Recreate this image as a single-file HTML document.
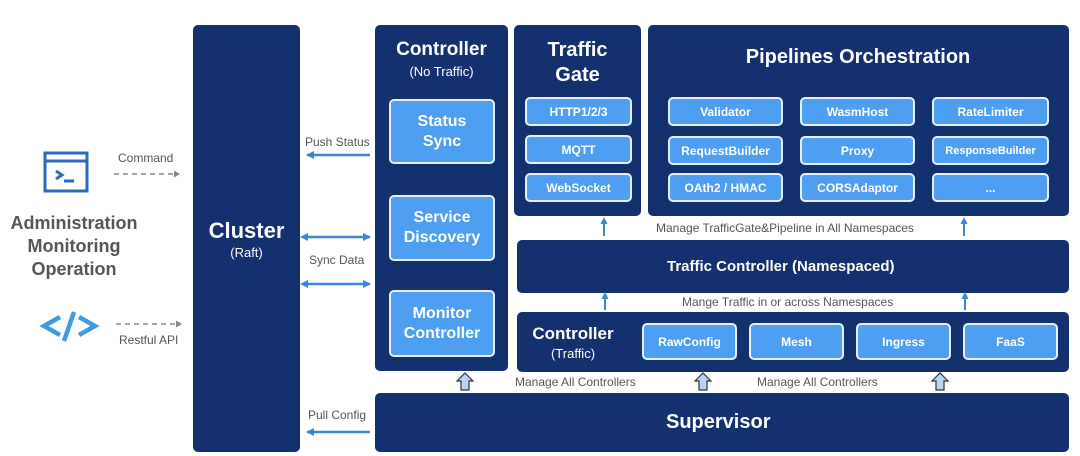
<!DOCTYPE html>
<html><head><meta charset="utf-8"><style>
*{margin:0;padding:0;box-sizing:border-box}
body{width:1080px;height:456px;background:#fff;position:relative;overflow:hidden;font-family:"Liberation Sans",Arial,sans-serif}
.n{position:absolute;background:#13306f;border-radius:5px;color:#fff}
.b{position:absolute;background:#4e9ef2;border:2px solid #e8f0fb;border-radius:5px;color:#fff;font-weight:bold;font-size:12px;display:flex;align-items:center;justify-content:center;text-align:center}
.t{position:absolute;color:#fff;font-weight:bold;text-align:center}
.g{position:absolute;color:#555;font-size:12px;white-space:nowrap}
svg{position:absolute;left:0;top:0}
</style></head><body>
<div class="n" style="left:193px;top:25px;width:107px;height:427px"></div>
<div class="t" style="left:193px;top:218px;width:107px;font-size:22px">Cluster</div>
<div class="t" style="left:193px;top:245px;width:107px;font-size:13px;font-weight:normal">(Raft)</div>

<div class="n" style="left:375px;top:25px;width:133px;height:346px"></div>
<div class="t" style="left:375px;top:39px;width:133px;font-size:19px">Controller</div>
<div class="t" style="left:375px;top:64px;width:133px;font-size:13px;font-weight:normal">(No Traffic)</div>
<div class="b" style="left:389px;top:99px;width:106px;height:65px;font-size:16px;line-height:20px">Status<br>Sync</div>
<div class="b" style="left:389px;top:195px;width:106px;height:66px;font-size:16px;line-height:20px">Service<br>Discovery</div>
<div class="b" style="left:389px;top:290px;width:106px;height:67px;font-size:16px;line-height:20px">Monitor<br>Controller</div>

<div class="n" style="left:514px;top:25px;width:127px;height:191px"></div>
<div class="t" style="left:514px;top:38px;width:127px;font-size:20px;line-height:25px">Traffic<br>Gate</div>
<div class="b" style="left:525px;top:97px;width:107px;height:29px">HTTP1/2/3</div>
<div class="b" style="left:525px;top:135px;width:107px;height:29px">MQTT</div>
<div class="b" style="left:525px;top:173px;width:107px;height:29px">WebSocket</div>

<div class="n" style="left:648px;top:25px;width:421px;height:191px"></div>
<div class="t" style="top:46px;width:290px;font-size:20px;left:713px">Pipelines Orchestration</div>
<div class="b" style="left:668px;top:97px;width:115px;height:29px">Validator</div>
<div class="b" style="left:800px;top:97px;width:115px;height:29px">WasmHost</div>
<div class="b" style="left:932px;top:97px;width:117px;height:29px">RateLimiter</div>
<div class="b" style="left:668px;top:136px;width:115px;height:29px">RequestBuilder</div>
<div class="b" style="left:800px;top:136px;width:115px;height:29px">Proxy</div>
<div class="b" style="left:932px;top:136px;width:117px;height:29px;font-size:11px">ResponseBuilder</div>
<div class="b" style="left:668px;top:173px;width:115px;height:29px">OAth2 / HMAC</div>
<div class="b" style="left:800px;top:173px;width:115px;height:29px">CORSAdaptor</div>
<div class="b" style="left:932px;top:173px;width:117px;height:29px">...</div>

<div class="g" style="left:656px;top:221px">Manage TrafficGate&amp;Pipeline in All Namespaces</div>
<div class="n" style="left:517px;top:240px;width:552px;height:53px"></div>
<div class="t" style="left:517px;top:258px;width:552px;font-size:15px;text-align:left;padding-left:150px">Traffic Controller (Namespaced)</div>
<div class="g" style="left:682px;top:295px">Mange Traffic in or across Namespaces</div>

<div class="n" style="left:517px;top:312px;width:552px;height:60px"></div>
<div class="t" style="left:517px;top:324px;width:112px;font-size:17px">Controller</div>
<div class="t" style="left:517px;top:346px;width:112px;font-size:13px;font-weight:normal">(Traffic)</div>
<div class="b" style="left:642px;top:323px;width:95px;height:37px">RawConfig</div>
<div class="b" style="left:749px;top:323px;width:95px;height:37px">Mesh</div>
<div class="b" style="left:856px;top:323px;width:95px;height:37px">Ingress</div>
<div class="b" style="left:963px;top:323px;width:95px;height:37px">FaaS</div>

<div class="g" style="left:515px;top:375px">Manage All Controllers</div>
<div class="g" style="left:757px;top:375px">Manage All Controllers</div>
<div class="n" style="left:375px;top:393px;width:694px;height:59px"></div>
<div class="t" style="left:375px;top:411px;width:694px;font-size:20px;text-align:left;padding-left:291px">Supervisor</div>

<div style="position:absolute;left:0;top:212px;width:148px;text-align:center;color:#555;font-weight:bold;font-size:18px;line-height:23px">Administration<br>Monitoring<br>Operation</div>
<div class="g" style="left:118px;top:151px">Command</div>
<div class="g" style="left:119px;top:333px">Restful API</div>
<div class="g" style="left:305px;top:135px">Push Status</div>
<div class="g" style="left:309px;top:253px">Sync Data</div>
<div class="g" style="left:308px;top:408px">Pull Config</div>

<svg width="1080" height="456">
<defs>
<marker id="ab" markerUnits="userSpaceOnUse" markerWidth="8" markerHeight="8" refX="7" refY="4" orient="auto"><path d="M0,0L8,4L0,8z" fill="#3a86d4"/></marker>
<marker id="as" markerUnits="userSpaceOnUse" markerWidth="8" markerHeight="8" refX="1" refY="4" orient="auto-start-reverse"><path d="M0,0L8,4L0,8z" fill="#3a86d4"/></marker>
<marker id="au" markerUnits="userSpaceOnUse" markerWidth="7" markerHeight="7" refX="5" refY="3.5" orient="auto"><path d="M0,0L7,3.5L0,7z" fill="#3a86d4"/></marker>
<marker id="ag" markerUnits="userSpaceOnUse" markerWidth="6" markerHeight="7" refX="5" refY="3.5" orient="auto"><path d="M0,0L6,3.5L0,7z" fill="#888"/></marker>
</defs>
<rect x="45" y="153" width="42" height="38" fill="none" stroke="#2a6bbf" stroke-width="3"/>
<line x1="45" y1="161" x2="87" y2="161" stroke="#2a6bbf" stroke-width="3"/>
<path d="M56,171L62,175L56,179" fill="none" stroke="#2a6bbf" stroke-width="3"/>
<line x1="64" y1="181" x2="74" y2="181" stroke="#2a6bbf" stroke-width="3"/>
<path d="M60,317L44,326L60,335" fill="none" stroke="#3f9be0" stroke-width="4.5"/>
<path d="M79,317L95,326L79,335" fill="none" stroke="#3f9be0" stroke-width="4.5"/>
<line x1="74" y1="312" x2="64" y2="341" stroke="#3f9be0" stroke-width="4.5"/>
<line x1="114" y1="174" x2="179" y2="174" stroke="#888" stroke-width="1.5" stroke-dasharray="5,4" marker-end="url(#ag)"/>
<line x1="116" y1="324" x2="181" y2="324" stroke="#888" stroke-width="1.5" stroke-dasharray="5,4" marker-end="url(#ag)"/>
<line x1="370" y1="155" x2="307" y2="155" stroke="#3a86d4" stroke-width="2.5" marker-end="url(#ab)"/>
<line x1="307" y1="237" x2="370" y2="237" stroke="#3a86d4" stroke-width="2.5" marker-start="url(#as)" marker-end="url(#ab)"/>
<line x1="307" y1="284" x2="370" y2="284" stroke="#3a86d4" stroke-width="2.5" marker-start="url(#as)" marker-end="url(#ab)"/>
<line x1="370" y1="432" x2="307" y2="432" stroke="#3a86d4" stroke-width="2.5" marker-end="url(#ab)"/>
<line x1="604" y1="236" x2="604" y2="219" stroke="#3a86d4" stroke-width="2" marker-end="url(#au)"/>
<line x1="964" y1="236" x2="964" y2="219" stroke="#3a86d4" stroke-width="2" marker-end="url(#au)"/>
<line x1="605" y1="310" x2="605" y2="294" stroke="#3a86d4" stroke-width="2" marker-end="url(#au)"/>
<line x1="965" y1="310" x2="965" y2="294" stroke="#3a86d4" stroke-width="2" marker-end="url(#au)"/>
<g fill="#b7d3f5" stroke="#333" stroke-width="1.2">
<path d="M465,373L473,381L469,381L469,390L461,390L461,381L457,381z"/>
<path d="M703,373L711,381L707,381L707,390L699,390L699,381L695,381z"/>
<path d="M940,373L948,381L944,381L944,390L936,390L936,381L932,381z"/>
</g>
</svg>
</body></html>
